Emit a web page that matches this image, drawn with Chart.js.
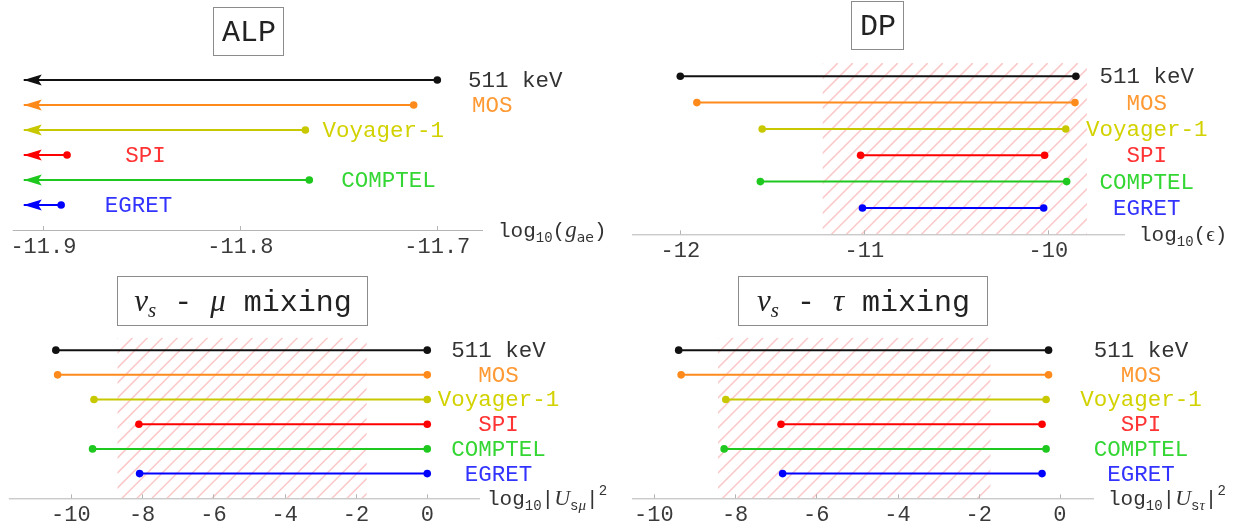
<!DOCTYPE html>
<html>
<head>
<meta charset="utf-8">
<title>Line constraints</title>
<script src="https://cdn.jsdelivr.net/npm/chart.js@4.4.1/dist/chart.umd.min.js"></script>
<style>
  html, body { margin: 0; padding: 0; background: #fff; }
  #wrap { position: relative; width: 1257px; height: 531px; overflow: hidden; }
  #wrap canvas { position: absolute; }
</style>
</head>
<body>
<div id="wrap">
  <canvas id="chartAlp" width="628" height="265" style="left:0;top:0"></canvas>
  <canvas id="chartDp" width="629" height="265" style="left:628px;top:0"></canvas>
  <canvas id="chartMu" width="628" height="266" style="left:0;top:265px"></canvas>
  <canvas id="chartTau" width="629" height="266" style="left:628px;top:265px"></canvas>
</div>
<script>
// rows, top to bottom
const rowNames = ['511 keV', 'MOS', 'Voyager-1', 'SPI', 'COMPTEL', 'EGRET'];

// ALP: upper limits only (arrow runs left to the end of the range)
const alpLimit = [-11.700, -11.712, -11.767, -11.888, -11.765, -11.891];
const alpArrowTip = -11.910;

// DP: excluded intervals of log10(eps)
const dpLow = [-12.00, -11.91, -11.555, -11.02, -11.565, -11.01];
const dpHigh = [-9.85, -9.855, -9.905, -10.02, -9.90, -10.025];

// sterile neutrino mixing intervals, log10|U|^2
const muLow = [-10.42, -10.37, -9.35, -8.09, -9.39, -8.07];
const muHigh = [0, 0, 0, 0, 0, 0];
const tauLow = [-9.39, -9.33, -8.23, -6.87, -8.27, -6.83];
const tauHigh = [-0.28, -0.28, -0.34, -0.44, -0.34, -0.44];

// hatched bands
const dpBand = [-11.226, -9.79];
const muBand = [-8.69, -1.70];
const tauBand = [-8.42, -1.71];

// axis ticks
const alpTicks = [-11.9, -11.8, -11.7];
const alpTickLabels = ['-11.9', '-11.8', '-11.7'];
const dpTicks = [-12, -11, -10];
const dpTickLabels = ['-12', '-11', '-10'];
const mixTicks = [-10, -8, -6, -4, -2, 0];
const mixTickLabels = ['-10', '-8', '-6', '-4', '-2', '0'];

const lineColors = ['#111111', '#ff8a1c', '#c8c800', '#ff0000', '#1ec81e', '#0000ff'];
const textColors = ['#333333', '#ff9933', '#d2d200', '#ff3333', '#33d633', '#3333ff'];

const MONO = '"Liberation Mono", "DejaVu Sans Mono", monospace';
const SERIF = '"Liberation Serif", "DejaVu Serif", serif';

const mono = s => `${s}px ${MONO}`;
const ital = s => `italic ${s}px ${SERIF}`;

// text made of several pieces (sub/superscripts, italics)
function runsWidth(ctx, runs) {
  return runs.reduce((w, r) => { ctx.font = r.font; return w + ctx.measureText(r.t).width; }, 0);
}
function drawRuns(ctx, x, y, runs, color) {
  ctx.fillStyle = color;
  ctx.textAlign = 'left';
  ctx.textBaseline = 'alphabetic';
  runs.forEach(r => {
    ctx.font = r.font;
    ctx.fillText(r.t, x, y + (r.dy || 0));
    x += ctx.measureText(r.t).width;
  });
}

function mixTitle(sym) {
  return [
    { t: 'ν', font: ital(31) },
    { t: 's', font: ital(21), dy: 6 },
    { t: ' - ', font: mono(30) },
    { t: sym, font: ital(31) },
    { t: ' mixing', font: mono(30) }
  ];
}
function mixAxisLabel(sym) {
  return [
    { t: 'log', font: mono(21) },
    { t: '10', font: mono(14), dy: 5 },
    { t: '|', font: mono(21) },
    { t: 'U', font: ital(22) },
    { t: 's', font: mono(14), dy: 5 },
    { t: sym, font: ital(15), dy: 5 },
    { t: '|', font: mono(21) },
    { t: '2', font: mono(14), dy: -10 }
  ];
}

const panels = [
  {
    id: 'chartAlp',
    pad: { left: 12.7, right: 145, top: 67.5, bottom: 35 },
    xMin: -11.9156, xMax: -11.6768,
    ticks: alpTicks, tickLabels: alpTickLabels,
    segment: i => [{ x: alpLimit[i], y: 6 - i }, { x: alpArrowTip, y: 6 - i }],
    arrow: true,
    labelX: [-11.6604, -11.6721, -11.7274, -11.8482, -11.7248, -11.8517],
    titleBox: { x: 213, y: 7, w: 70, h: 48 },
    title: [{ t: 'ALP', font: mono(30) }],
    axisLabel: [
      { t: 'log', font: mono(21) },
      { t: '10', font: mono(14), dy: 5 },
      { t: '(', font: mono(21) },
      { t: 'g', font: ital(23) },
      { t: 'ae', font: `14px "DejaVu Sans", sans-serif`, dy: 5 },
      { t: ')', font: mono(21) }
    ],
    axisLabelX: 498
  },
  {
    id: 'chartDp',
    pad: { left: 0, right: 132, top: 63.1, bottom: 30.7 },
    xMin: -12.2625, xMax: -9.583,
    ticks: dpTicks, tickLabels: dpTickLabels,
    segment: i => [{ x: dpLow[i], y: 6 - i }, { x: dpHigh[i], y: 6 - i }],
    band: dpBand,
    labelX: Array(6).fill(-9.465),
    titleBox: { x: 223, y: 1, w: 52, h: 48 },
    title: [{ t: 'DP', font: mono(30) }],
    axisLabel: [
      { t: 'log', font: mono(21) },
      { t: '10', font: mono(14), dy: 5 },
      { t: '(', font: mono(21) },
      { t: 'ϵ', font: `21px ${SERIF}` },
      { t: ')', font: mono(21) }
    ],
    axisLabelX: 511
  },
  {
    id: 'chartMu',
    pad: { left: 8.8, right: 148, top: 72.8, bottom: 32.7 },
    xMin: -11.74, xMax: 1.48,
    ticks: mixTicks, tickLabels: mixTickLabels,
    segment: i => [{ x: muLow[i], y: 6 - i }, { x: muHigh[i], y: 6 - i }],
    band: muBand,
    labelX: Array(6).fill(2.0),
    titleBox: { x: 117, y: 11, w: 250, h: 49 },
    title: mixTitle('μ'),
    axisLabel: mixAxisLabel('μ'),
    axisLabelX: 487
  },
  {
    id: 'chartTau',
    pad: { left: 0.3, right: 163, top: 72.8, bottom: 32.7 },
    xMin: -10.54, xMax: 0.84,
    ticks: mixTicks, tickLabels: mixTickLabels,
    segment: i => [{ x: tauLow[i], y: 6 - i }, { x: tauHigh[i], y: 6 - i }],
    band: tauBand,
    labelX: Array(6).fill(2.0),
    titleBox: { x: 110, y: 11, w: 249, h: 49 },
    title: mixTitle('τ'),
    axisLabel: mixAxisLabel('τ'),
    axisLabelX: 480
  }
];

// hatching, arrowheads, axis, labels and the boxed title
function decor(p) {
  return {
    id: 'decor_' + p.id,
    beforeDatasetsDraw(chart) {
      if (!p.band) return;
      const { ctx, chartArea: a, scales: { x } } = chart;
      const x1 = x.getPixelForValue(p.band[0]);
      const x2 = x.getPixelForValue(p.band[1]);
      const h = a.bottom - a.top;
      ctx.save();
      ctx.beginPath();
      ctx.rect(x1, a.top, x2 - x1, h);
      ctx.clip();
      ctx.strokeStyle = 'rgba(240,60,60,0.28)';
      ctx.lineWidth = 1.6;
      ctx.beginPath();
      for (let k = x1 - h; k < x2 + 15; k += 15) {
        ctx.moveTo(k, a.bottom);
        ctx.lineTo(k + h, a.top);
      }
      ctx.stroke();
      ctx.restore();
    },
    afterDatasetsDraw(chart) {
      if (!p.arrow) return;
      const ctx = chart.ctx;
      chart.data.datasets.forEach((ds, i) => {
        const tip = chart.getDatasetMeta(i).data[1];
        ctx.save();
        ctx.fillStyle = lineColors[i];
        ctx.beginPath();
        ctx.moveTo(tip.x, tip.y);
        ctx.lineTo(tip.x + 18, tip.y - 5.5);
        ctx.lineTo(tip.x + 14.5, tip.y);
        ctx.lineTo(tip.x + 18, tip.y + 5.5);
        ctx.closePath();
        ctx.fill();
        ctx.restore();
      });
    },
    afterDraw(chart) {
      const { ctx, chartArea: a, scales: { x, y } } = chart;
      ctx.save();

      // axis line with small inward ticks
      ctx.strokeStyle = '#b4b4b4';
      ctx.lineWidth = 1;
      ctx.beginPath();
      ctx.moveTo(a.left, a.bottom + 0.5);
      ctx.lineTo(a.right, a.bottom + 0.5);
      p.ticks.forEach(v => {
        const px = Math.round(x.getPixelForValue(v)) + 0.5;
        ctx.moveTo(px, a.bottom);
        ctx.lineTo(px, a.bottom - 4);
      });
      ctx.stroke();

      ctx.fillStyle = '#3a3a3a';
      ctx.font = mono(22);
      ctx.textAlign = 'center';
      ctx.textBaseline = 'middle';
      p.ticks.forEach((v, k) => {
        ctx.fillText(p.tickLabels[k], x.getPixelForValue(v), a.bottom + 17);
      });

      drawRuns(ctx, p.axisLabelX, a.bottom + 7, p.axisLabel, '#333');

      // row names
      ctx.font = mono(22.5);
      ctx.textAlign = 'center';
      ctx.textBaseline = 'middle';
      rowNames.forEach((name, i) => {
        ctx.fillStyle = textColors[i];
        ctx.fillText(name, x.getPixelForValue(p.labelX[i]), y.getPixelForValue(6 - i) + 1);
      });

      // title in a frame
      const b = p.titleBox;
      ctx.strokeStyle = '#8c8c8c';
      ctx.lineWidth = 1;
      ctx.strokeRect(b.x + 0.5, b.y + 0.5, b.w, b.h);
      const tw = runsWidth(ctx, p.title);
      drawRuns(ctx, b.x + (b.w - tw) / 2 + 1, b.y + b.h / 2 + 10, p.title, '#222');

      ctx.restore();
    }
  };
}

function makeChart(p) {
  const datasets = rowNames.map((name, i) => ({
    label: name,
    data: p.segment(i),
    showLine: true,
    borderColor: lineColors[i],
    backgroundColor: lineColors[i],
    borderWidth: 2,
    pointRadius: p.arrow ? [3.8, 0] : 3.8,
    pointBorderWidth: 0,
    pointBackgroundColor: lineColors[i],
    clip: false
  }));

  return new Chart(document.getElementById(p.id), {
    type: 'scatter',
    data: { datasets },
    options: {
      responsive: false,
      animation: false,
      events: [],
      layout: { padding: p.pad },
      plugins: { legend: { display: false }, tooltip: { enabled: false } },
      scales: {
        x: { type: 'linear', display: false, min: p.xMin, max: p.xMax },
        y: { type: 'linear', display: false, min: 0, max: 6.5 }
      }
    },
    plugins: [decor(p)]
  });
}

panels.forEach(makeChart);
</script>
</body>
</html>
